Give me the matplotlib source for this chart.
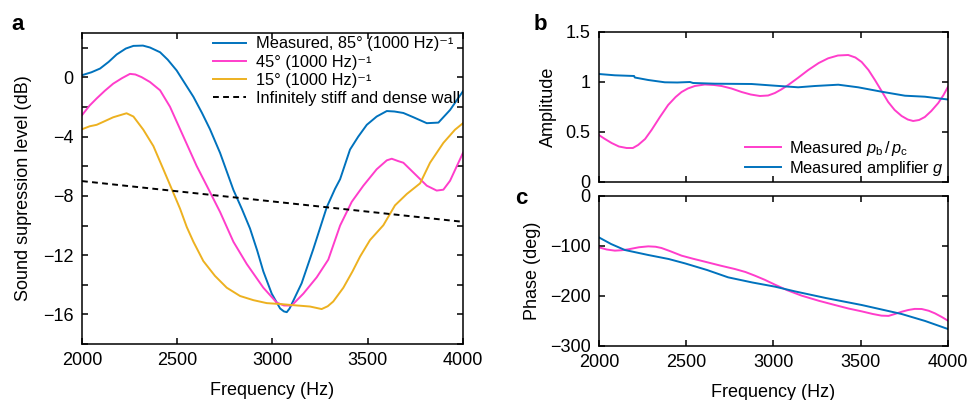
import numpy as np
import matplotlib
matplotlib.use("Agg")
import matplotlib.pyplot as plt
from matplotlib.ticker import MultipleLocator

plt.rcParams['font.family'] = ['Liberation Sans', 'DejaVu Sans']
plt.rcParams['mathtext.fontset'] = 'custom'
plt.rcParams['mathtext.rm'] = 'Liberation Sans'
plt.rcParams['mathtext.it'] = 'Liberation Sans:italic'
plt.rcParams['mathtext.bf'] = 'Liberation Sans:bold'

# ---------------- Panel a data ----------------
f_85 = [2000, 2050, 2095, 2140, 2182, 2230, 2270, 2320, 2357, 2410, 2450, 2497, 2540, 2585, 2630,
        2672, 2725, 2795, 2840, 2882, 2920, 2952, 2996, 3040, 3060, 3075, 3090, 3101, 3153, 3214,
        3285, 3328, 3355, 3407, 3450, 3495, 3547, 3600, 3640, 3687, 3740, 3810, 3871, 3932, 4000]
db_85 = [0.15, 0.35, 0.6, 1.05, 1.55, 1.95, 2.13, 2.15, 2.02, 1.7, 1.2, 0.47, -0.4, -1.31, -2.4,
         -3.5, -5.1, -7.6, -8.9, -10.2, -11.7, -13.1, -14.6, -15.6, -15.8, -15.85, -15.6, -15.3, -13.9, -11.6,
         -8.76, -7.53, -6.87, -4.87, -4.0, -3.2, -2.64, -2.27, -2.3, -2.4, -2.69, -3.09, -3.05, -2.2, -0.93]

f_45 = [2000, 2040, 2077, 2120, 2164, 2210, 2252, 2280, 2313, 2357, 2410, 2462, 2532, 2602, 2655,
        2725, 2795, 2865, 2952, 3022, 3060, 3101, 3162, 3232, 3293, 3355, 3416, 3477, 3547, 3600,
        3626, 3660, 3687, 3757, 3810, 3862, 3897, 3932, 4000]
db_45 = [-2.55, -1.9, -1.42, -0.9, -0.42, -0.05, 0.24, 0.2, 0.02, -0.31, -0.87, -1.98, -3.98, -5.98, -7.31,
         -9.09, -11.1, -12.6, -14.2, -15.2, -15.4, -15.4, -14.6, -13.5, -12.3, -10.0, -8.4, -7.31, -6.2, -5.6,
         -5.49, -5.65, -5.76, -6.64, -7.31, -7.64, -7.58, -6.98, -5.09]

f_15 = [2000, 2040, 2077, 2120, 2164, 2200, 2234, 2270, 2322, 2375, 2427, 2471, 2515, 2550, 2585,
        2637, 2698, 2760, 2830, 2900, 2970, 3040, 3092, 3197, 3258, 3290, 3319, 3372, 3420, 3460,
        3512, 3582, 3643, 3705, 3775, 3827, 3897, 3958, 4000]
db_15 = [-3.5, -3.3, -3.2, -2.95, -2.69, -2.55, -2.42, -2.64, -3.53, -4.64, -6.2, -7.53, -8.87, -10.1, -11.1,
         -12.4, -13.4, -14.2, -14.76, -15.04, -15.24, -15.3, -15.36, -15.47, -15.64, -15.45, -15.13, -14.2, -13.1, -12.09,
         -10.98, -9.98, -8.64, -7.87, -7.15, -5.76, -4.42, -3.53, -3.09]

f_wall = [2000, 4000]
db_wall = [-7.0, -9.75]

labels_a = ['Measured, 85° (1000 Hz)\u207b\u00b9', '45° (1000 Hz)\u207b\u00b9',
            '15° (1000 Hz)\u207b\u00b9', 'Infinitely stiff and dense wall']

# ---------------- Panel b data ----------------
f_b_ratio = [2000, 2035, 2073, 2115, 2159, 2195, 2225, 2265, 2302, 2350, 2397, 2440, 2474, 2510, 2550,
             2607, 2660, 2703, 2760, 2818, 2870, 2923, 2970, 3009, 3045, 3085, 3140, 3200, 3260, 3314,
             3370, 3429, 3470, 3506, 3545, 3582, 3620, 3658, 3695, 3735, 3770, 3801, 3835, 3868, 3905,
             3945, 3975, 4000]
amp_ratio = [0.47, 0.43, 0.39, 0.355, 0.34, 0.34, 0.37, 0.43, 0.52, 0.65, 0.77, 0.85, 0.90, 0.935, 0.96,
             0.975, 0.97, 0.96, 0.935, 0.90, 0.875, 0.86, 0.865, 0.89, 0.925, 0.97, 1.04, 1.12, 1.19, 1.237,
             1.265, 1.27, 1.245, 1.20, 1.12, 1.02, 0.91, 0.80, 0.72, 0.66, 0.625, 0.61, 0.62, 0.65, 0.71,
             0.79, 0.87, 0.95]

f_b_gain = [2000, 2092, 2202, 2206, 2283, 2378, 2450, 2522, 2540, 2665, 2875, 3009, 3142, 3238, 3372,
            3486, 3620, 3754, 3868, 4000]
amp_gain = [1.08, 1.067, 1.06, 1.045, 1.02, 0.997, 0.995, 1.0, 0.99, 0.983, 0.98, 0.963, 0.947, 0.96, 0.973,
            0.947, 0.903, 0.863, 0.853, 0.825]

# ---------------- Panel c data ----------------
f_c_gain = [2000, 2070, 2149, 2283, 2400, 2493, 2620, 2741, 2880, 3009, 3123, 3300, 3506, 3735, 3870, 4000]
ph_gain = [-82.7, -96, -108, -118, -126, -134.7, -148, -162.7, -173, -181.3, -190.7, -204, -218, -236, -250, -266]

f_c_ratio = [2000, 2045, 2092, 2130, 2168, 2230, 2283, 2325, 2359, 2410, 2474, 2540, 2607, 2700, 2779,
             2840, 2894, 2950, 3009, 3080, 3162, 3260, 3352, 3430, 3506, 3570, 3620, 3660, 3696, 3735,
             3773, 3810, 3850, 3890, 3926, 3965, 4000]
ph_ratio = [-102.7, -107, -109.3, -108.5, -106.7, -102.5, -100.7, -101.5, -104, -110.5, -119.3, -125.5, -131.3, -139.5, -146,
            -152, -159.3, -167.5, -177.3, -188.5, -199.3, -209.5, -218, -225, -230.7, -236, -239.3, -239.8, -236, -231.5,
            -228, -225.8, -226, -229.5, -234.7, -242, -249.3]

blue = '#0072BD'
pink = '#FF3DCB'
orange = '#EDB120'
lw = 1.4

fig = plt.figure(figsize=(9.69, 4.0), dpi=100)

# ---- Panel a ----
axa = fig.add_axes([0.0846, 0.14, 0.3932, 0.7775])
axa.plot(f_85, db_85, color=blue, lw=lw, label=labels_a[0])
axa.plot(f_45, db_45, color=pink, lw=lw, label=labels_a[1])
axa.plot(f_15, db_15, color=orange, lw=lw, label=labels_a[2])
axa.plot(f_wall, db_wall, color='black', lw=lw, ls=(0, (3, 2.2)), label=labels_a[3])
axa.set_xlim(2000, 4000)
axa.set_ylim(-18, 3)
axa.xaxis.set_major_locator(MultipleLocator(500))
axa.yaxis.set_minor_locator(MultipleLocator(2))
axa.set_yticks([0, -4, -8, -12, -16])
axa.set_xlabel('Frequency (Hz)', fontsize=13, labelpad=9)
axa.set_ylabel('Sound supression level (dB)', fontsize=13, labelpad=8)
axa.legend(loc='upper right', frameon=False, fontsize=11.8, handlelength=2.0,
           labelspacing=0.2, handletextpad=0.6, borderaxespad=0.0, borderpad=0.2)

# ---- Panel b ----
axb = fig.add_axes([0.618, 0.545, 0.3602, 0.375])
axb.plot(f_b_ratio, amp_ratio, color=pink, lw=lw, label='Measured $p_{\\mathregular{b}}\\,/\\,p_{\\mathregular{c}}$')
axb.plot(f_b_gain, amp_gain, color=blue, lw=lw, label='Measured amplifier $g$')
axb.set_xlim(2000, 4000)
axb.set_ylim(0, 1.5)
axb.xaxis.set_major_locator(MultipleLocator(500))
axb.set_yticks([0, 0.5, 1, 1.5])
axb.set_yticklabels(['0', '0.5', '1', '1.5'])
axb.set_xticklabels([])
axb.set_ylabel('Amplitude', fontsize=13, labelpad=6)
axb.legend(loc='lower right', frameon=False, fontsize=11.8, handlelength=2.2,
           labelspacing=0.05, handletextpad=0.5, borderaxespad=0.15, borderpad=0.1)

# ---- Panel c ----
axc = fig.add_axes([0.618, 0.135, 0.3602, 0.375])
axc.plot(f_c_ratio, ph_ratio, color=pink, lw=lw)
axc.plot(f_c_gain, ph_gain, color=blue, lw=lw)
axc.set_xlim(2000, 4000)
axc.set_ylim(-300, 0)
axc.xaxis.set_major_locator(MultipleLocator(500))
axc.set_yticks([0, -100, -200, -300])
axc.set_xlabel('Frequency (Hz)', fontsize=13, labelpad=9)
axc.set_ylabel('Phase (deg)', fontsize=13, labelpad=6)

for ax in (axa, axb, axc):
    ax.tick_params(which='both', direction='in', top=True, right=True, labelsize=13, width=1.1)
    ax.tick_params(which='major', length=4, pad=6)
    ax.tick_params(which='minor', length=4)
    for s in ax.spines.values():
        s.set_linewidth(1.1)

fig.text(0.012, 0.938, 'a', fontsize=16, fontweight='bold', va='center')
fig.text(0.551, 0.94, 'b', fontsize=16, fontweight='bold', va='center')
fig.text(0.532, 0.505, 'c', fontsize=16, fontweight='bold', va='center')

fig.savefig('out.png', dpi=100)
